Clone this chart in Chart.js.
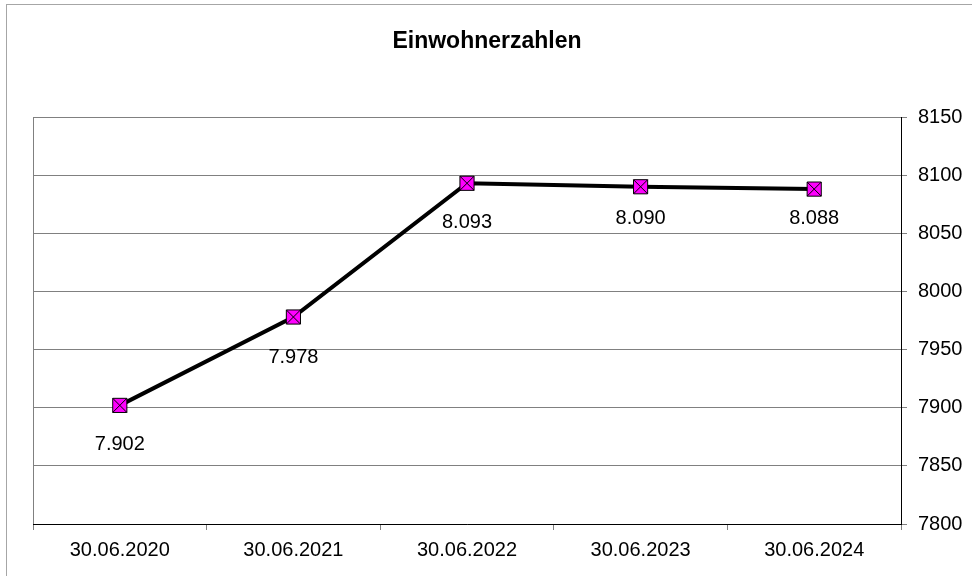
<!DOCTYPE html>
<html>
<head>
<meta charset="utf-8">
<script src="https://cdn.jsdelivr.net/npm/chart.js@4.4.1/dist/chart.umd.min.js"></script>
<style>
  html, body { margin: 0; padding: 0; background: #fff; }
  #wrap { width: 972px; height: 576px; position: relative; }
</style>
</head>
<body>
<div id="wrap"><canvas id="c" width="972" height="576"></canvas></div>
<script>
const categories = ["30.06.2020", "30.06.2021", "30.06.2022", "30.06.2023", "30.06.2024"];
const population = [7902, 7978, 8093, 8090, 8088];
const yTicks = [7800, 7850, 7900, 7950, 8000, 8050, 8100, 8150];
const titleText = "Einwohnerzahlen";

// vertical distance (px) of each value label below its point
const labelOffsets = [39, 40, 39, 32, 29];

const FONT = "'Liberation Sans', Arial, Helvetica, sans-serif";

function fmtDE(v) {
  return v.toLocaleString('de-DE');
}

const framePlugin = {
  id: 'frame',
  beforeDraw(chart) {
    const ctx = chart.ctx;
    ctx.save();
    ctx.fillStyle = '#fff';
    ctx.fillRect(0, 0, chart.width, chart.height);
    ctx.strokeStyle = '#a6a6a6';
    ctx.lineWidth = 1;
    ctx.strokeRect(6.5, 4.5, chart.width + 20, chart.height + 20);
    ctx.fillStyle = '#000';
    ctx.font = "bold 23px " + FONT;
    ctx.textAlign = 'center';
    ctx.textBaseline = 'alphabetic';
    ctx.fillText(titleText, 487, 48);
    ctx.restore();
  },
  afterDraw(chart) {
    const ctx = chart.ctx;
    const a = chart.chartArea;
    ctx.save();
    ctx.strokeStyle = '#808080';
    ctx.lineWidth = 1;
    ctx.beginPath();
    ctx.moveTo(a.left + 0.5, a.top);
    ctx.lineTo(a.left + 0.5, a.bottom);
    ctx.stroke();
    ctx.restore();
  }
};

const labelPlugin = {
  id: 'valueLabels',
  afterDatasetsDraw(chart) {
    const ctx = chart.ctx;
    const meta = chart.getDatasetMeta(0);
    ctx.save();
    ctx.fillStyle = '#000';
    ctx.font = "20px " + FONT;
    ctx.textAlign = 'center';
    ctx.textBaseline = 'middle';
    meta.data.forEach((pt, i) => {
      ctx.fillText(fmtDE(population[i]), pt.x, pt.y + labelOffsets[i]);
    });
    ctx.restore();
  }
};

new Chart(document.getElementById('c'), {
  type: 'line',
  data: {
    labels: categories,
    datasets: [
      {
        data: population,
        order: 2,
        borderColor: '#000',
        borderWidth: 4,
        tension: 0,
        pointStyle: 'rect',
        pointRadius: 10,
        pointBackgroundColor: '#ff00ff',
        pointBorderColor: '#000',
        pointBorderWidth: 1,
        pointHoverRadius: 10
      },
      {
        data: population,
        order: 1,
        showLine: false,
        pointStyle: 'crossRot',
        pointRadius: 10,
        pointBorderColor: '#000',
        pointBorderWidth: 1,
        pointBackgroundColor: '#000',
        pointHoverRadius: 10
      }
    ]
  },
  options: {
    responsive: false,
    animation: false,
    events: [],
    layout: { padding: { left: 33, top: 117, right: 0, bottom: 0 }, autoPadding: false },
    plugins: {
      legend: { display: false },
      title: { display: false },
      tooltip: { enabled: false }
    },
    scales: {
      x: {
        type: 'category',
        offset: true,
        grid: {
          offset: true,
          drawOnChartArea: false,
          drawTicks: true,
          tickLength: 6,
          color: '#808080'
        },
        border: { color: '#000', width: 1 },
        ticks: {
          color: '#000',
          font: { size: 20, family: FONT },
          padding: 8,
          maxRotation: 0,
          autoSkip: false
        },
        afterFit(s) { s.height = 52; }
      },
      y: {
        position: 'right',
        min: 7800,
        max: 8150,
        afterBuildTicks(s) { s.ticks = yTicks.map(v => ({ value: v })); },
        grid: {
          color: '#808080',
          drawTicks: true,
          tickLength: 6
        },
        border: { color: '#000', width: 1 },
        ticks: {
          color: '#000',
          font: { size: 20, family: FONT },
          padding: 11,
          callback: v => String(v)
        },
        afterFit(s) { s.width = 71; }
      }
    }
  },
  plugins: [framePlugin, labelPlugin]
});
</script>
</body>
</html>
